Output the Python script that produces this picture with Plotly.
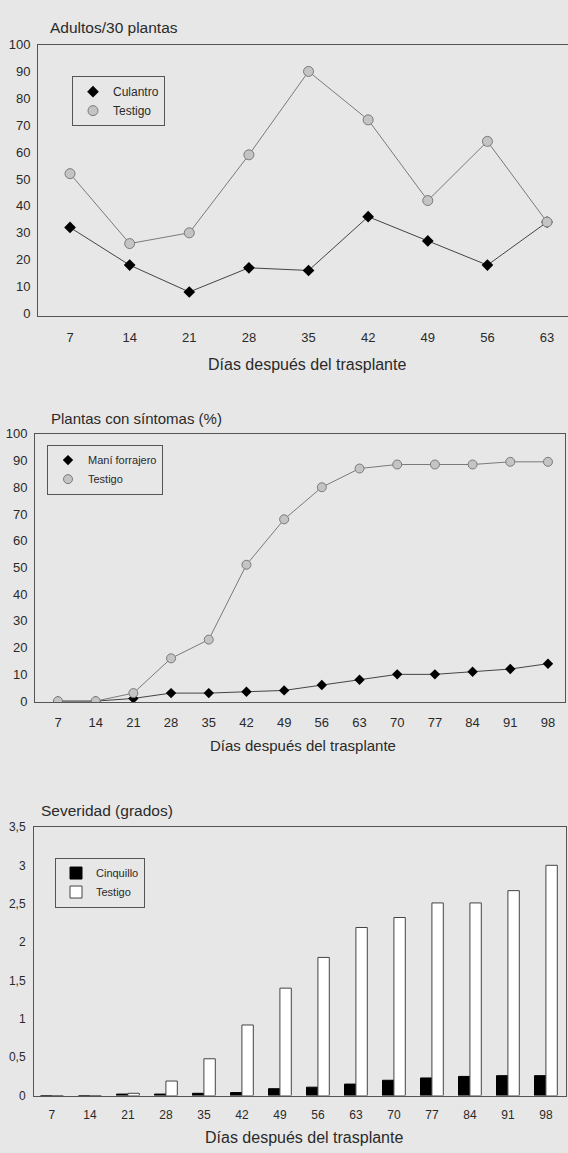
import plotly.graph_objects as go

W, H = 568, 1153

# ---------------- data ----------------
days1 = [7, 14, 21, 28, 35, 42, 49, 56, 63]
culantro = [32, 18, 8, 17, 16, 36, 27, 18, 34]
testigo1 = [52, 26, 30, 59, 90, 72, 42, 64, 34]

days2 = [7, 14, 21, 28, 35, 42, 49, 56, 63, 70, 77, 84, 91, 98]
mani = [0, 0, 1, 3, 3, 3.5, 4, 6, 8, 10, 10, 11, 12, 14]
testigo2 = [0, 0, 3, 16, 23, 51, 68, 80, 87, 88.5, 88.5, 88.5, 89.5, 89.5]

days3 = [7, 14, 21, 28, 35, 42, 49, 56, 63, 70, 77, 84, 91, 98]
cinquillo = [0, 0, 0.02, 0.02, 0.03, 0.04, 0.09, 0.11, 0.15, 0.2, 0.23, 0.25, 0.26, 0.26]
testigo3 = [0, 0, 0.03, 0.19, 0.48, 0.92, 1.4, 1.8, 2.19, 2.32, 2.51, 2.51, 2.67, 3.0]

titles = ["Adultos/30 plantas", "Plantas con síntomas (%)", "Severidad (grados)"]
xtitle = "Días después del trasplante"

# ---------------- style ----------------
FONT = "Liberation Sans, Arial, Helvetica, sans-serif"
TXT = "#2a2a2a"
FRAME = "#555555"
BG = "#e7e7e7"
GRAYFILL = "#c4c4c4"
GRAYLINE = "#7a7a7a"


def fx(px):
    return px / W


def fy(py):
    return 1 - py / H


fig = go.Figure()

# ---- chart 1 ----
fig.add_trace(go.Scatter(x=days1, y=culantro, mode="lines+markers", xaxis="x", yaxis="y",
                         line=dict(color="#444444", width=1),
                         marker=dict(symbol="diamond", size=9, color="black"),
                         showlegend=False))
fig.add_trace(go.Scatter(x=days1, y=testigo1, mode="lines+markers", xaxis="x", yaxis="y",
                         line=dict(color=GRAYLINE, width=1),
                         marker=dict(symbol="circle", size=10, color=GRAYFILL,
                                     line=dict(color=GRAYLINE, width=1)),
                         showlegend=False))
fig.add_trace(go.Scatter(x=[None], y=[None], mode="markers", name="Culantro", xaxis="x", yaxis="y",
                         marker=dict(symbol="diamond", size=9, color="black"), legend="legend"))
fig.add_trace(go.Scatter(x=[None], y=[None], mode="markers", name="Testigo", xaxis="x", yaxis="y",
                         marker=dict(symbol="circle", size=10, color=GRAYFILL,
                                     line=dict(color=GRAYLINE, width=1)), legend="legend"))

# ---- chart 2 ----
fig.add_trace(go.Scatter(x=days2, y=mani, mode="lines+markers", xaxis="x2", yaxis="y2",
                         line=dict(color="#444444", width=1),
                         marker=dict(symbol="diamond", size=8, color="black"),
                         showlegend=False))
fig.add_trace(go.Scatter(x=days2, y=testigo2, mode="lines+markers", xaxis="x2", yaxis="y2",
                         line=dict(color=GRAYLINE, width=1),
                         marker=dict(symbol="circle", size=9, color=GRAYFILL,
                                     line=dict(color=GRAYLINE, width=1)),
                         showlegend=False))
fig.add_trace(go.Scatter(x=[None], y=[None], mode="markers", name="Maní forrajero", xaxis="x2", yaxis="y2",
                         marker=dict(symbol="diamond", size=8, color="black"), legend="legend2"))
fig.add_trace(go.Scatter(x=[None], y=[None], mode="markers", name="Testigo", xaxis="x2", yaxis="y2",
                         marker=dict(symbol="circle", size=9, color=GRAYFILL,
                                     line=dict(color=GRAYLINE, width=1)), legend="legend2"))

# ---- chart 3 ----
BW = 2.1
fig.add_trace(go.Bar(x=days3, y=cinquillo, name="Cinquillo", xaxis="x3", yaxis="y3",
                     width=BW, offset=-BW,
                     marker=dict(color="black", line=dict(color="black", width=1)),
                     legend="legend3"))
fig.add_trace(go.Bar(x=days3, y=testigo3, name="Testigo", xaxis="x3", yaxis="y3",
                     width=BW, offset=0,
                     marker=dict(color="white", line=dict(color="#444444", width=1)),
                     legend="legend3"))

axis_common = dict(showgrid=False, zeroline=False, showline=True, linecolor=FRAME, linewidth=1,
                   ticks="", tickfont=dict(family=FONT, size=13, color=TXT))

fig.update_layout(
    width=W, height=H, autosize=False,
    margin=dict(l=0, r=0, t=0, b=0),
    paper_bgcolor=BG, plot_bgcolor=BG,
    separators=",.",
    font=dict(family=FONT, color=TXT),
    barmode="overlay",
    xaxis=dict(axis_common, domain=[fx(38), 1.0], anchor="y", range=[3.24, 65.46],
               tickvals=days1, mirror=True, ticklabelstandoff=9),
    yaxis=dict(axis_common, domain=[fy(313), fy(38)], anchor="x", range=[-1, 100],
               tickvals=list(range(0, 101, 10)), mirror=False, ticklabelstandoff=4),
    xaxis2=dict(axis_common, domain=[fx(35), fx(565)], anchor="y2", range=[2.73, 101.16],
                tickvals=days2, mirror=True, ticklabelstandoff=8),
    yaxis2=dict(axis_common, domain=[fy(704), fy(432)], anchor="x2", range=[-0.5, 100],
                tickvals=list(range(0, 101, 10)), mirror=True, ticklabelstandoff=4),
    xaxis3=dict(axis_common, domain=[fx(34), fx(566)], anchor="y3", range=[3.7, 101.7],
                tickvals=days3, mirror=True, ticklabelstandoff=8,
                tickfont=dict(family=FONT, size=12, color=TXT)),
    yaxis3=dict(axis_common, domain=[fy(1102), fy(830)], anchor="x3", range=[0, 3.5],
                tickvals=[0, 0.5, 1, 1.5, 2, 2.5, 3, 3.5], mirror=True, ticklabelstandoff=5,
                tickfont=dict(family=FONT, size=12, color=TXT)),
    legend=dict(x=fx(72), y=fy(70), xanchor="left", yanchor="top",
                bordercolor=FRAME, borderwidth=1, bgcolor="rgba(0,0,0,0)",
                font=dict(family=FONT, size=12, color=TXT), itemwidth=30, tracegroupgap=0),
    legend2=dict(x=fx(47), y=fy(443), xanchor="left", yanchor="top",
                 bordercolor=FRAME, borderwidth=1, bgcolor="rgba(0,0,0,0)",
                 font=dict(family=FONT, size=11, color=TXT), itemwidth=30, tracegroupgap=0),
    legend3=dict(x=fx(55), y=fy(861), xanchor="left", yanchor="top",
                 bordercolor=FRAME, borderwidth=1, bgcolor="rgba(0,0,0,0)",
                 font=dict(family=FONT, size=11, color=TXT), itemwidth=30, tracegroupgap=0,
                 traceorder="normal"),
)

annots = [
    dict(text=titles[0], x=fx(48), y=fy(21), size=15.5),
    dict(text=titles[1], x=fx(49), y=fy(417), size=15),
    dict(text=titles[2], x=fx(39), y=fy(813), size=15.5),
]
for a in annots:
    fig.add_annotation(text=a["text"], x=a["x"], y=a["y"], xref="paper", yref="paper",
                       xanchor="left", yanchor="middle", showarrow=False,
                       font=dict(family=FONT, size=a["size"], color=TXT))

for xc, yc, sz in [(307, 362, 16), (303, 748, 15), (304, 1144, 16)]:
    fig.add_annotation(text=xtitle, x=fx(xc), y=fy(yc), xref="paper", yref="paper",
                       xanchor="center", yanchor="middle", showarrow=False,
                       font=dict(family=FONT, size=sz, color=TXT))

fig.write_html("out.html")
